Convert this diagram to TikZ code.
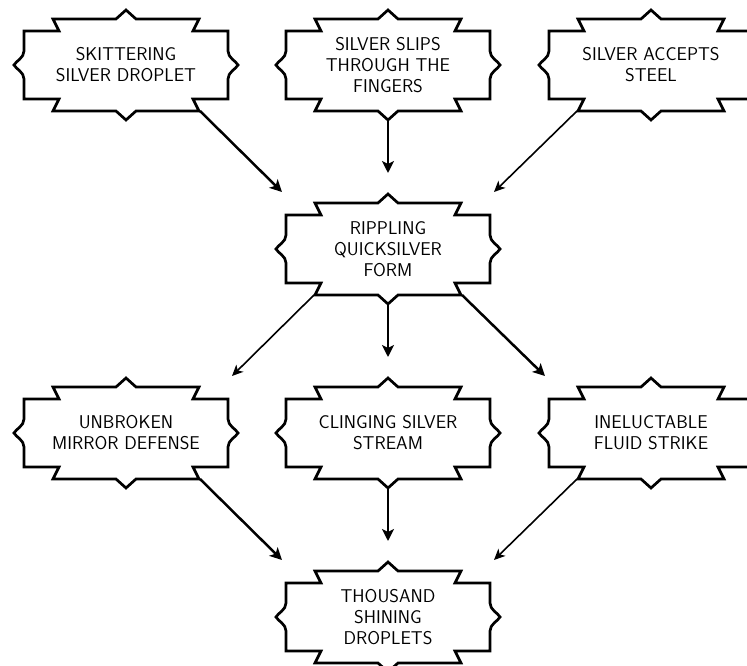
\documentclass[tikz,border=0pt]{standalone}
\usetikzlibrary{arrows.meta}
\tikzset{
  charmtext/.style={align=center, font=\sffamily\fontsize{18.5}{21}\selectfont, inner sep=0pt},
  charmline/.style={line width=2.7pt, line join=miter, miter limit=4},
  thickarrow/.style={line width=2.5pt, -{Stealth[length=12pt,width=12pt,inset=3pt]}},
  thinarrow/.style={line width=1.6pt, -{Stealth[length=11pt,width=10pt,inset=3pt]}},
}
\newcommand\charmbox[4]{%
  \node[charmtext] (#1) at (#2,#3) {#4};
  \draw[charmline,shift={(#2,#3)}]
    (-102,-34) -- (-67,-34) -- (-73,-46) -- (-10,-46) -- (0,-55) -- (10,-46)
    -- (73,-46) -- (67,-34) -- (102,-34) -- (102,-14)
    .. controls (102,-7) and (110,-4) .. (112,0)
    .. controls (110,4) and (102,7) .. (102,14)
    -- (102,34) -- (67,34) -- (73,46) -- (10,46) -- (0,55) -- (-10,46)
    -- (-73,46) -- (-67,34) -- (-102,34) -- (-102,14)
    .. controls (-102,7) and (-110,4) .. (-112,0)
    .. controls (-110,-4) and (-102,-7) .. (-102,-14) -- cycle;
}
\begin{document}
\begin{tikzpicture}[x=1pt,y=-1pt]
\useasboundingbox (0,0) rectangle (747,666);
\clip (0,0) rectangle (747,666);
\fill[white] (0,0) rectangle (747,666);
\charmbox{sk}{126}{65}{SKITTERING\\SILVER DROPLET}
\charmbox{ss}{388}{65}{SILVER SLIPS\\THROUGH THE\\FINGERS}
\charmbox{sa}{651}{65}{SILVER ACCEPTS\\STEEL}
\charmbox{rq}{388}{249}{RIPPLING\\QUICKSILVER\\FORM}
\charmbox{ub}{126}{433}{UNBROKEN\\MIRROR DEFENSE}
\charmbox{cs}{388}{433}{CLINGING SILVER\\STREAM}
\charmbox{ie}{651}{433}{INELUCTABLE\\FLUID STRIKE}
\charmbox{th}{388}{617}{THOUSAND\\SHINING\\DROPLETS}
% connectors
\draw[thickarrow] ([shift={(74,46)}]sk.center) -- ([shift={(-106,-57)}]rq.center);
\draw[thickarrow] ([shift={(0,55)}]ss.center) -- ([shift={(0,-76)}]rq.center);
\draw[thinarrow] ([shift={(-74,46)}]sa.center) -- ([shift={(106,-57)}]rq.center);
\draw[thinarrow] ([shift={(-74,46)}]rq.center) -- ([shift={(106,-57)}]ub.center);
\draw[thickarrow] ([shift={(0,55)}]rq.center) -- ([shift={(0,-76)}]cs.center);
\draw[thickarrow] ([shift={(74,46)}]rq.center) -- ([shift={(-106,-57)}]ie.center);
\draw[thickarrow] ([shift={(74,46)}]ub.center) -- ([shift={(-106,-57)}]th.center);
\draw[thickarrow] ([shift={(0,55)}]cs.center) -- ([shift={(0,-76)}]th.center);
\draw[thinarrow] ([shift={(-74,46)}]ie.center) -- ([shift={(106,-57)}]th.center);
\end{tikzpicture}
\end{document}
